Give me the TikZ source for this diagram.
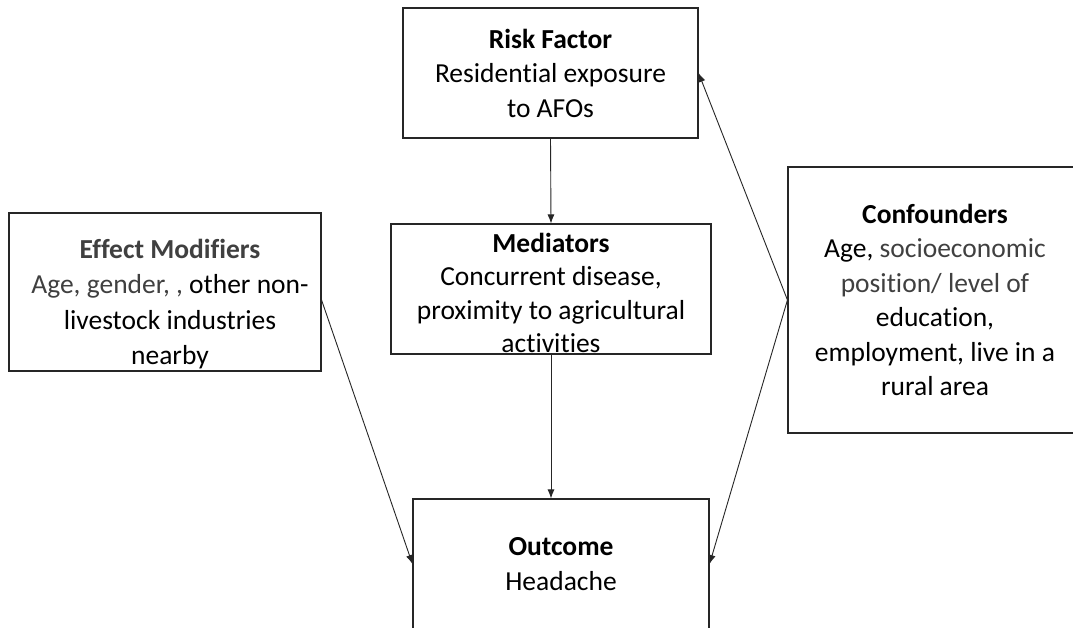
\documentclass[tikz,border=0pt]{standalone}
\usepackage{fontspec}
\setmainfont{Carlito}[Ligatures={NoCommon}]
\usetikzlibrary{arrows.meta}
\definecolor{txtgray}{HTML}{404040}
\definecolor{edge}{HTML}{262626}
\tikzset{
  box/.style={draw=edge, line width=1.1pt, fill=white, align=center,
    inner sep=0pt, font=\fontsize{27.5}{34.5}\selectfont},
  label text/.style={align=center, inner sep=0pt, font=\fontsize{27.5}{35.5}\selectfont},
  link/.style={draw=edge, line width=0.9pt, -{Latex[length=9pt,width=7pt]}}
}
\begin{document}
\begin{tikzpicture}[x=1pt, y=-1pt]
  \clip (0,0) rectangle (1073,628);
  \fill[white] (0,0) rectangle (1073,628);

  % the five boxes of the causal model
  \node[box, minimum width=295pt, minimum height=130pt] (risk) at (550.5,73)
    {\textbf{Risk Factor}\\Residential exposure\\to AFOs};
  \node[box, minimum width=320pt, minimum height=130pt] (med) at (551,289) {};
  \node[label text, font=\fontsize{27.5}{33.5}\selectfont] (medtext) at (551,293)
    {\textbf{Mediators}\\Concurrent disease,\\proximity to agricultural\\activities};
  \node[box, minimum width=312pt, minimum height=158pt] (em) at (165,292) {};
  \node[label text] (emtext) at (170,304)
    {\textcolor{txtgray}{\textbf{Effect Modifiers}}\\
     \textcolor{txtgray}{Age, gender, ,} other non-\\livestock industries\\nearby};
  \node[box, minimum width=294pt, minimum height=266pt] (conf) at (935,300)
    {\textbf{Confounders}\\Age, \textcolor{txtgray}{socioeconomic}\\\textcolor{txtgray}{position/ level of}\\education,\\employment, live in a\\rural area};
  \node[box, minimum width=296pt, minimum height=130pt] (out) at (561,564)
    {\textbf{Outcome}\\Headache};

  % arrows between the boxes
  \draw[link] (risk.south) -- (med.north);
  \draw[link] (med.south) -- (out.north -| med.south);
  \draw[link] ([yshift=-8pt]em.east) -- (out.west);
  \draw[link] (conf.west) -- (risk.east);
  \draw[link] (conf.west) -- (out.east);
\end{tikzpicture}
\end{document}
